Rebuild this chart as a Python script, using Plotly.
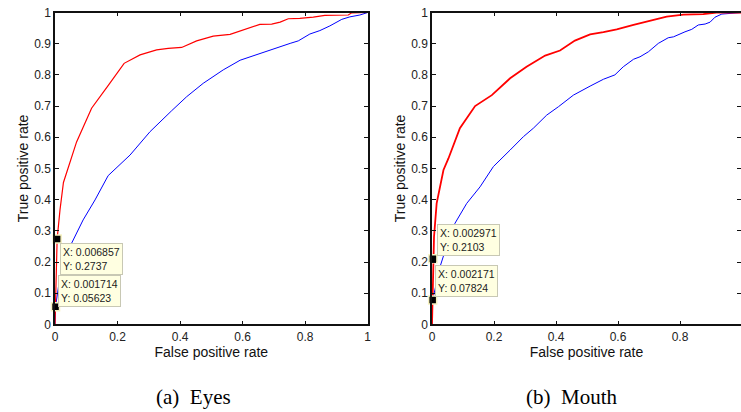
import plotly.graph_objects as go

# ---------------- data ----------------
eyes_red_x = [0, 0.002, 0.006857, 0.016, 0.027, 0.069, 0.117, 0.171, 0.221, 0.272, 0.325, 0.362, 0.405,
              0.453, 0.506, 0.56, 0.613, 0.655, 0.693, 0.72, 0.746, 0.783, 0.826, 0.863, 0.938, 0.949, 1.0]
eyes_red_y = [0, 0.11, 0.2737, 0.367, 0.455, 0.585, 0.693, 0.767, 0.837, 0.864, 0.88, 0.885, 0.888,
              0.909, 0.924, 0.93, 0.949, 0.962, 0.963, 0.969, 0.98, 0.981, 0.985, 0.991, 0.992, 0.999, 1.0]

eyes_blue_x = [0, 0.001714, 0.011, 0.03, 0.053, 0.09, 0.128, 0.17, 0.24, 0.304, 0.373, 0.421, 0.474, 0.538,
               0.592, 0.655, 0.698, 0.752, 0.778, 0.815, 0.847, 0.879, 0.917, 0.943, 0.975, 1.0]
eyes_blue_y = [0, 0.05623, 0.12, 0.2, 0.26, 0.335, 0.399, 0.477, 0.543, 0.618, 0.685, 0.73, 0.773, 0.816,
               0.847, 0.869, 0.882, 0.901, 0.909, 0.931, 0.942, 0.957, 0.978, 0.986, 0.992, 1.0]

mouth_red_x = [0, 0.002, 0.002971, 0.0065, 0.015, 0.026, 0.037, 0.053, 0.09, 0.139, 0.193, 0.252, 0.305,
               0.365, 0.413, 0.461, 0.51, 0.553, 0.596, 0.65, 0.703, 0.757, 0.811, 0.875, 0.918, 1.0]
mouth_red_y = [0, 0.08, 0.2103, 0.281, 0.388, 0.441, 0.495, 0.532, 0.629, 0.7, 0.735, 0.789, 0.826,
               0.862, 0.878, 0.91, 0.93, 0.937, 0.946, 0.96, 0.974, 0.987, 0.993, 0.995, 1.0, 1.0]

mouth_blue_x = [0, 0.001, 0.002171, 0.026, 0.05, 0.074, 0.112, 0.155, 0.198, 0.252, 0.295, 0.327, 0.37,
                0.408, 0.456, 0.51, 0.553, 0.59, 0.617, 0.65, 0.671, 0.698, 0.73, 0.762, 0.779, 0.816,
                0.838, 0.859, 0.881, 0.897, 0.913, 0.935, 0.961, 0.983, 1.0]
mouth_blue_y = [0, 0.02, 0.07824, 0.185, 0.26, 0.324, 0.388, 0.441, 0.506, 0.559, 0.602, 0.629, 0.671,
                0.698, 0.735, 0.764, 0.786, 0.8, 0.826, 0.85, 0.858, 0.874, 0.901, 0.919, 0.922, 0.938,
                0.946, 0.96, 0.963, 0.969, 0.985, 0.995, 0.997, 1.0, 1.0]

eyes_tips_x = [0.006857, 0.001714]
eyes_tips_y = [0.2737, 0.05623]
mouth_tips_x = [0.002971, 0.002171]
mouth_tips_y = [0.2103, 0.07824]

x_ticks = [0, 0.2, 0.4, 0.6, 0.8, 1]
y_ticks = [0, 0.1, 0.2, 0.3, 0.4, 0.5, 0.6, 0.7, 0.8, 0.9, 1]
captions = ["(a)\u00a0\u00a0Eyes", "(b)\u00a0\u00a0Mouth"]

# ---------------- figure ----------------
W, H = 741, 412
fig = go.Figure()

fig.add_trace(go.Scatter(x=eyes_blue_x, y=eyes_blue_y, mode="lines",
                         line=dict(color="#0000ff", width=1), xaxis="x", yaxis="y"))
fig.add_trace(go.Scatter(x=eyes_red_x, y=eyes_red_y, mode="lines",
                         line=dict(color="#ff0000", width=1.2), xaxis="x", yaxis="y"))
fig.add_trace(go.Scatter(x=mouth_blue_x, y=mouth_blue_y, mode="lines",
                         line=dict(color="#0000ff", width=1), xaxis="x2", yaxis="y2"))
fig.add_trace(go.Scatter(x=mouth_red_x, y=mouth_red_y, mode="lines",
                         line=dict(color="#ff0000", width=1.8), xaxis="x2", yaxis="y2"))

mk = dict(symbol="square", size=8, color="black", line=dict(color="#f6f2c0", width=1.5))
fig.add_trace(go.Scatter(x=eyes_tips_x, y=eyes_tips_y, mode="markers", marker=mk,
                         cliponaxis=False, xaxis="x", yaxis="y"))
fig.add_trace(go.Scatter(x=mouth_tips_x, y=mouth_tips_y, mode="markers", marker=mk,
                         cliponaxis=False, xaxis="x2", yaxis="y2"))

def px_x(p):
    return p / W

def px_y(p):
    return 1 - p / H

axcommon = dict(showgrid=False, zeroline=False, showline=True, linecolor="#111", linewidth=1.5,
                mirror="ticks", ticks="inside", ticklen=4, tickcolor="#111", tickwidth=1,
                automargin=False,
                tickfont=dict(family="Liberation Sans, Arial", size=12, color="#222"),
                title_font=dict(family="Liberation Sans, Arial", size=14, color="#111"))

ydom = [px_y(324.4), px_y(12.5)]

fig.update_layout(
    width=W, height=H, margin=dict(l=0, r=0, t=0, b=0, autoexpand=False),
    paper_bgcolor="white", plot_bgcolor="white", showlegend=False,
    xaxis=dict(axcommon, domain=[px_x(55), px_x(367.7)], range=[0, 1], tickvals=x_ticks,
               anchor="y", title=dict(text="False positive rate", standoff=3)),
    yaxis=dict(axcommon, domain=ydom, range=[0, 1], tickvals=y_ticks, anchor="x",
               title=dict(text="True positive rate", standoff=2)),
    xaxis2=dict(axcommon, domain=[px_x(432), 1.0], range=[0, (741 - 432) / 310], tickvals=x_ticks,
                anchor="y2", title=dict(text="False positive rate", standoff=3)),
    yaxis2=dict(axcommon, domain=ydom, range=[0, 1], tickvals=y_ticks, anchor="x2",
                title=dict(text="True positive rate", standoff=2)),
)

tipfont = dict(family="Liberation Sans, Arial", size=10.5, color="#222")
tip_pos = [(60, 243), (58, 275), (437, 224), (435, 265)]
tip_vals = list(zip(eyes_tips_x, eyes_tips_y)) + list(zip(mouth_tips_x, mouth_tips_y))
for (lx, ty), (vx, vy) in zip(tip_pos, tip_vals):
    fig.add_annotation(xref="paper", yref="paper", x=px_x(lx), y=px_y(ty),
                       xanchor="left", yanchor="top", align="left", showarrow=False,
                       text=f"X: {vx:g}<br>Y: {vy:.4g}", font=tipfont,
                       bgcolor="#ffffe1", bordercolor="#c8c8b4", borderwidth=1, borderpad=2)

cap_x = [193, 571]
for cx, txt in zip(cap_x, captions):
    fig.add_annotation(xref="paper", yref="paper", x=px_x(cx), y=px_y(397),
                       xanchor="center", yanchor="middle", showarrow=False, text=txt,
                       font=dict(family="Liberation Serif, Times New Roman", size=21, color="black"))

fig.write_html("out.html")
